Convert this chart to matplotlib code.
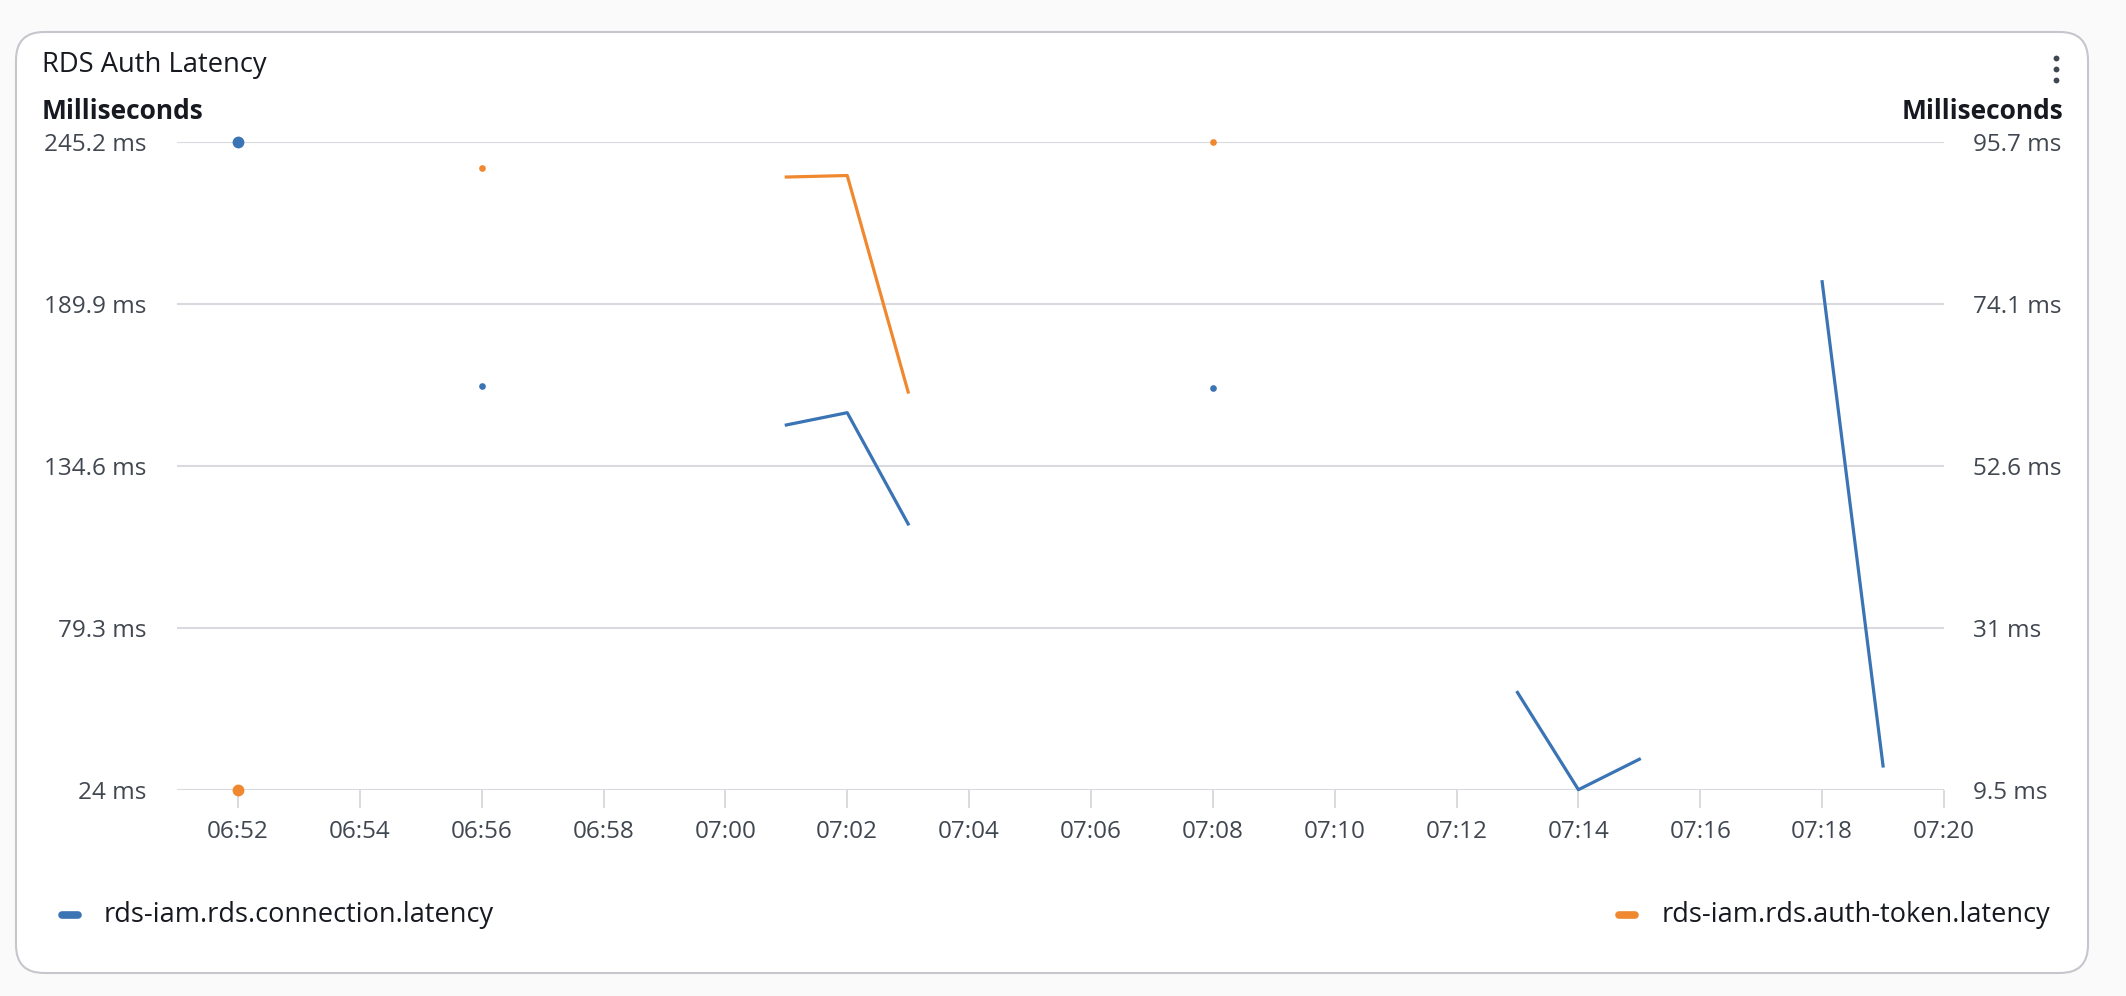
import numpy as np
import pandas as pd
import matplotlib
matplotlib.use("Agg")
import matplotlib.pyplot as plt
import matplotlib.dates as mdates
from matplotlib.patches import FancyBboxPatch
from matplotlib.lines import Line2D

plt.rcParams['font.family'] = ['Open Sans', 'DejaVu Sans']

# data, one value per minute (None = no datapoint)
times = pd.date_range("2024-01-01 06:52", "2024-01-01 07:19", freq="1min")
connection_latency = [245.2, None, None, None, 161.9, None, None, None, None,
                      148.5, 152.7, 114.7, None, None, None, None, 161.2,
                      None, None, None, None, 57.2, 24.0, 34.4, None, None,
                      197.4, 32.1]
auth_token_latency = [9.5, None, None, None, 92.2, None, None, None, None,
                      91.0, 91.2, 62.4, None, None, None, None, 95.7,
                      None, None, None, None, None, None, None, None, None,
                      None, None]
series_names = ["rds-iam.rds.connection.latency", "rds-iam.rds.auth-token.latency"]
left_ticks = [24, 79.3, 134.6, 189.9, 245.2]
left_labels = ["24 ms", "79.3 ms", "134.6 ms", "189.9 ms", "245.2 ms"]
right_ticks = [9.5, 31.05, 52.6, 74.15, 95.7]
right_labels = ["9.5 ms", "31 ms", "52.6 ms", "74.1 ms", "95.7 ms"]

blue = "#3a74b4"
orange = "#f0882f"
grid_c = "#d9dadf"
label_c = "#414750"
text_c = "#16191f"

W, H = 2126, 996
fig = plt.figure(figsize=(W / 100, H / 100), dpi=100, facecolor="#fafafa")

# card behind everything
card = FancyBboxPatch((16, H - 973), 2072, 973 - 32, boxstyle="round,pad=0,rounding_size=28",
                      transform=None, facecolor="white", edgecolor="#c6c6cd", linewidth=1.5,
                      zorder=-5)
fig.patches.append(card)

ax = fig.add_axes([177 / W, 1 - 789.7 / H, (1944 - 177) / W, (789.7 - 141.7) / H])
ax2 = ax.twinx()
ax.set_facecolor("none")
ax2.set_facecolor("none")


def draw(a, vals, color):
    y = np.array([np.nan if v is None else v for v in vals], dtype=float)
    a.plot(times, y, color=color, lw=2.3, solid_joinstyle="round", clip_on=False, zorder=3)
    for i in range(len(y)):
        if np.isnan(y[i]):
            continue
        prev_nan = i == 0 or np.isnan(y[i - 1])
        next_nan = i == len(y) - 1 or np.isnan(y[i + 1])
        if prev_nan and next_nan:
            ms = 8.5 if i == 0 else 4.8
            a.plot(times[i], y[i], "o", color=color, ms=ms, mew=0, clip_on=False, zorder=4)


draw(ax, connection_latency, blue)
draw(ax2, auth_token_latency, orange)

ax.set_xlim(pd.Timestamp("2024-01-01 06:51"), pd.Timestamp("2024-01-01 07:20"))
ax.set_ylim(left_ticks[0], left_ticks[-1])
ax2.set_ylim(right_ticks[0], right_ticks[-1])

ax.set_yticks(left_ticks)
ax.set_yticklabels(left_labels)
ax2.set_yticks(right_ticks)
ax2.set_yticklabels(right_labels)

ax.xaxis.set_major_locator(mdates.MinuteLocator(byminute=range(0, 60, 2)))
ax.xaxis.set_major_formatter(mdates.DateFormatter("%H:%M"))

ax.grid(axis="y", color=grid_c, lw=1.5)
ax.set_axisbelow(True)
for a in (ax, ax2):
    for s in a.spines.values():
        s.set_visible(False)
ax.tick_params(axis="y", length=0, pad=22, labelsize=17.5, labelcolor=label_c)
ax2.tick_params(axis="y", length=0, pad=21, labelsize=17.5, labelcolor=label_c)
ax.tick_params(axis="x", length=13, width=1.4, color=grid_c, pad=9, labelsize=17.5, labelcolor=label_c)

# texts
fig.text(42 / W, 1 - 65 / H, "RDS Auth Latency", fontsize=19.7, color=text_c, va="center", ha="left")
fig.text(42 / W, 1 - 111 / H, "Milliseconds", fontsize=19, weight="bold", color=text_c,
         va="center", ha="left")
fig.text(2063 / W, 1 - 111 / H, "Milliseconds", fontsize=19, weight="bold", color=text_c,
         va="center", ha="right")

# menu dots
fig.add_artist(Line2D([2055.5 / W] * 3, [1 - 58 / H, 1 - 69 / H, 1 - 80 / H], ls="none",
                      marker="o", ms=4.2, mew=0, color=label_c, transform=fig.transFigure))

# legend
ly = 1 - 915 / H
for name, color, mx, tx in [(series_names[0], blue, 70, 104), (series_names[1], orange, 1627, 1662)]:
    fig.add_artist(Line2D([(mx - 8) / W, (mx + 8) / W], [ly, ly], color=color, lw=5.5,
                          solid_capstyle="round", transform=fig.transFigure))
    fig.text(tx / W, ly, name, fontsize=19.5, color=text_c, va="center", ha="left")

fig.savefig("out.png", dpi=100, facecolor=fig.get_facecolor())
